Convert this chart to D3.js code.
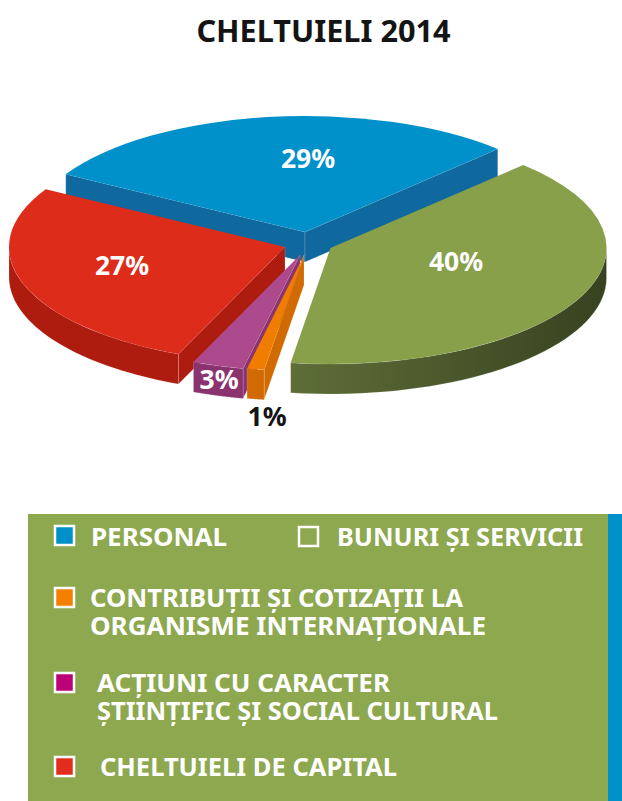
<!DOCTYPE html>
<html><head><meta charset="utf-8">
<style>html,body{margin:0;padding:0;background:#fff;overflow:hidden}svg{display:block}text{font-family:"Noto Sans","Open Sans",sans-serif;font-weight:700}</style>
<script src="https://cdn.jsdelivr.net/npm/d3@7"></script>
</head><body>
<svg id="c" width="622" height="801"></svg>
<script>
const title = "CHELTUIELI 2014";
const categories = ["PERSONAL","BUNURI ȘI SERVICII","CONTRIBUȚII ȘI COTIZAȚII LA ORGANISME INTERNAȚIONALE","ACȚIUNI CU CARACTER ȘTIINȚIFIC ȘI SOCIAL CULTURAL","CHELTUIELI DE CAPITAL"];
const values = [29,40,1,3,27];
const valueLabels = ["29%","40%","1%","3%","27%"];
const topColors = ["#0090CA","#88A04A","#F07D00","#AD4A8D","#DE2C1B"];
const sideColors = ["#0F689E","url(#greenSide)","#D16A00","#8A336F","#AE1C10"];
const legendColors = ["#0090CA","#8DA84F","#F58000","#BB0078","#E32D1C"];

// layout
const W=622,H=801,rx=276,ry=116,depth=30,rad=Math.PI/180;
const apex=[[305,232],[330.5,248],[304,255],[300,255],[285,247]];
const labelAt=[[308,158],[456,261],[267,416],[219,379],[122,265]];
const drawOrder=[0,4,3,2,1];
const legendLines=[[["PERSONAL",91,546,136]],[["BUNURI ȘI SERVICII",337,546,246]],
 [["CONTRIBUȚII ȘI COTIZAȚII LA",90,607,373],["ORGANISME INTERNAȚIONALE",90,635,396]],
 [["ACȚIUNI CU CARACTER",97,692,293],["ȘTIINȚIFIC ȘI SOCIAL CULTURAL",97,720,401]],
 [["CHELTUIELI DE CAPITAL",100,776,297]]];
const legendBoxes=[[55,526],[299,527],[55,588],[55,673],[55,757]];

const svg=d3.select("#c");
const defs=svg.append("defs");
const g=defs.append("linearGradient").attr("id","greenSide");
g.append("stop").attr("offset","0").attr("stop-color","#5E6E37");
g.append("stop").attr("offset","1").attr("stop-color","#374220");

svg.append("text").attr("x",323.5).attr("y",42).attr("text-anchor","middle")
  .attr("font-size",30.7).attr("fill","#141414").text(title);

const pie=d3.pie().sort(null).startAngle(-60.1*rad).endAngle(299.9*rad);
const arcs=pie(values);
const arc=d3.arc().innerRadius(0).outerRadius(rx);
const line=d3.line();
const xs=(i,t)=>apex[i][0]+rx*Math.sin(t);
const ys=(i,t)=>apex[i][1]-ry*Math.cos(t);
const seam="rgba(255,255,255,0.28)";

function cutWall(i,t){
  const a=apex[i],p=[xs(i,t),ys(i,t)];
  return line([a,p,[p[0],p[1]+depth],[a[0],a[1]+depth]])+"Z";
}
function outerWall(i,a0,a1){
  const lo=Math.max(a0,90*rad),hi=Math.min(a1,270*rad);
  if(hi<=lo) return null;
  const ts=d3.range(0,41).map(k=>lo+(hi-lo)*k/40);
  const top=ts.map(t=>[xs(i,t),ys(i,t)]);
  const bot=ts.slice().reverse().map(t=>[xs(i,t),ys(i,t)+depth]);
  return line(top.concat(bot))+"Z";
}
const pie3d=svg.append("g");
drawOrder.forEach(i=>{
  const d=arcs[i],a0=d.startAngle,a1=d.endAngle,s=pie3d.append("g");
  const wallStyle=p=>p.attr("fill",sideColors[i]).attr("stroke",seam).attr("stroke-width",0.6);
  // a cut face shows only when its outward side faces down the screen
  if(Math.sin(a0)<0) s.append("path").attr("d",cutWall(i,a0)).call(wallStyle);
  if(Math.sin(a1)>0) s.append("path").attr("d",cutWall(i,a1)).call(wallStyle);
  const o=outerWall(i,a0,a1);
  if(o) s.append("path").attr("d",o).call(wallStyle);
  s.append("path").attr("d",arc(d))
   .attr("transform",`translate(${apex[i][0]},${apex[i][1]}) scale(1,${ry/rx})`)
   .attr("fill",topColors[i]);
});
valueLabels.forEach((t,i)=>{
  svg.append("text").attr("x",labelAt[i][0]).attr("y",labelAt[i][1]+9.5).attr("text-anchor","middle")
   .attr("font-size",26.5).attr("fill",i===2?"#141414":"#fff").text(t);
});

svg.append("rect").attr("x",28).attr("y",514).attr("width",580).attr("height",H-514).attr("fill","#8DA84F");
svg.append("rect").attr("x",608).attr("y",514).attr("width",W-608).attr("height",H-514).attr("fill","#0090CA");
categories.forEach((c,i)=>{
  svg.append("rect").attr("x",legendBoxes[i][0]).attr("y",legendBoxes[i][1]).attr("width",19).attr("height",19)
   .attr("fill",legendColors[i]).attr("stroke","#fff").attr("stroke-width",2.5);
  legendLines[i].forEach(l=>svg.append("text").attr("x",l[1]).attr("y",l[2]).attr("font-size",25.8)
    .attr("textLength",l[3]).attr("lengthAdjust","spacingAndGlyphs").attr("fill","#fff").text(l[0]));
});
</script>
</body></html>
